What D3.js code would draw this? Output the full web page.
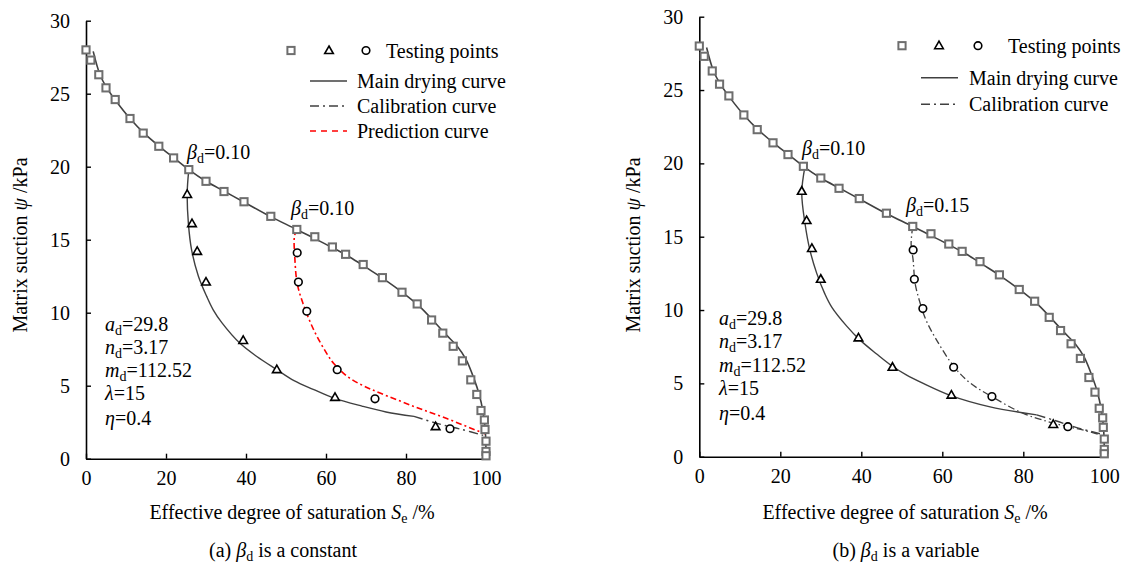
<!DOCTYPE html>
<html><head><meta charset="utf-8">
<script src="https://cdn.jsdelivr.net/npm/d3@7"></script>
<style>
body{margin:0;background:#fff;}
</style></head>
<body><svg id="chart" width="1126" height="567"></svg>
<script>
// ---- data ----
const xTicks = [0, 20, 40, 60, 80, 100];
const yTicks = [0, 5, 10, 15, 20, 25, 30];

const squaresX = [0, 1.2, 3.2, 5, 7.3, 11, 14.3, 18.2, 21.9, 25.7, 30, 34.5, 39.5, 46.2, 52.7, 57.2, 61.6, 64.9, 69.3, 74.1, 79, 82.8, 86.4, 89.2, 91.8, 94.1, 96.2, 97.7, 98.75, 99.6, 99.75, 100, 100, 100];
const squaresY = [28.0, 27.3, 26.3, 25.4, 24.6, 23.3, 22.3, 21.4, 20.6, 19.8, 19.0, 18.3, 17.6, 16.6, 15.7, 15.2, 14.5, 14.0, 13.3, 12.4, 11.4, 10.6, 9.5, 8.6, 7.7, 6.7, 5.4, 4.4, 3.3, 2.65, 2.0, 1.2, 0.5, 0.2];
const trianglesX = [25.3, 26.5, 27.8, 30, 39.3, 47.7, 62.25, 87.4];
const trianglesY = [18.1, 16.1, 14.2, 12.1, 8.1, 6.1, 4.2, 2.2];
const circlesX = [52.8, 53.1, 55.2, 62.8, 72.25, 91];
const circlesY = [14.1, 12.1, 10.1, 6.1, 4.1, 2.05];

const mainCurveX = [1.8, 3.5, 5.2, 7.5, 11, 14.5, 18.3, 22, 25.7, 30, 35, 40, 46, 52.7, 57, 62, 66, 70, 74.5, 79.5, 83.5, 87, 90, 92.8, 95, 97.1, 98.3, 99.2, 99.8, 100];
const mainCurveY = [27.9, 26.3, 25.4, 24.5, 23.3, 22.3, 21.4, 20.6, 19.8, 19.0, 18.25, 17.5, 16.6, 15.7, 15.1, 14.4, 13.8, 13.1, 12.3, 11.3, 10.4, 9.4, 8.5, 7.7, 6.8, 5.4, 4.4, 3.3, 2.0, 0.4];

// panel (a) scanning curve through triangles
const scanAX = [25.7, 25.3, 25.6, 26.4, 28.1, 30.2, 31.8, 34, 38.5, 42.7, 47.7, 52, 56.8, 62, 69, 75, 82];
const scanAY = [19.8, 18.2, 16.1, 14.3, 12.5, 11.1, 10.2, 9.3, 7.9, 7.0, 6.1, 5.35, 4.75, 4.15, 3.6, 3.2, 2.9];
const tailAX = [82, 88, 94, 99.3];
const tailAY = [2.9, 2.4, 2.0, 1.6];
// panel (a) prediction curve
const predX = [52.7, 52.1, 52.2, 52.8, 54.3, 56.8, 60.2, 62, 65.5, 69.3, 73.5, 81.8, 90.2, 99.75];
const predY = [15.7, 15.2, 13.8, 12.0, 10.6, 8.9, 7.2, 6.5, 5.6, 5.0, 4.5, 3.6, 2.75, 1.7];

// panel (b) curves
const scanBX = [26.1, 25.3, 26.1, 27.3, 29, 31, 32.7, 36.4, 39.5, 43.8, 47.5, 51, 55.3, 62.3, 71.8, 83.3];
const scanBY = [19.8, 18.0, 15.9, 14.1, 12.5, 11.1, 10.2, 8.9, 8.0, 7.0, 6.2, 5.6, 5.0, 4.15, 3.4, 2.85];
const tailBX = [83.3, 88, 93, 99.8];
const tailBY = [2.85, 2.45, 2.0, 1.5];
const calibBX = [52.7, 52.3, 52.8, 53.3, 54.5, 56, 58.6, 63, 67, 72.2, 80, 86, 91, 95, 98.9];
const calibBY = [15.7, 14.5, 13.4, 11.8, 10.5, 9.3, 7.95, 6.1, 5.0, 4.1, 2.95, 2.4, 2.05, 1.8, 1.5];

const paramLabels = [["a","d","=29.8"],["n","d","=3.17"],["m","d","=112.52"],["λ","","=15"],["η","","=0.4"]];

// ---- drawing ----
const svg = d3.select("#chart");
const FF = "'Liberation Serif', serif";
const FS = 20;
const SUB = 14;
const zip = (xs, ys) => xs.map((x, i) => [x, ys[i]]);

function txt(g) {
  return g.append("text").style("font-family", FF).attr("font-size", FS).attr("fill", "#000");
}

function richText(g, x, y, parts) {
  const t = txt(g).attr("x", x).attr("y", y).attr("dy", "0.35em");
  parts.forEach(p => {
    const s = t.append("tspan").text(p.text);
    if (p.italic) s.attr("font-style", "italic");
    if (p.sub) s.attr("font-size", SUB).attr("dy", 4);
    if (p.unsub) s.attr("dy", -4);
  });
  return t;
}

function trianglePath(cx, cy) {
  return `M${cx},${cy-4.5}L${cx+4.3},${cy+3}L${cx-4.3},${cy+3}Z`;
}

function panel(cfg) {
  const g = svg.append("g");
  const x = d3.scaleLinear().domain([0, 100]).range([cfg.x0, cfg.x1]);
  const y = d3.scaleLinear().domain([0, 30]).range([cfg.yb, cfg.yt]);

  const xa = g.append("g").attr("transform", `translate(0,${cfg.yb})`)
    .call(d3.axisBottom(x).tickValues(xTicks).tickSizeInner(-5).tickSizeOuter(0).tickPadding(12).tickFormat(d3.format("d")));
  const ya = g.append("g").attr("transform", `translate(${cfg.x0},0)`)
    .call(d3.axisLeft(y).tickValues(yTicks).tickSizeInner(-5).tickSizeOuter(0).tickPadding(16).tickFormat(d3.format("d")));
  [xa, ya].forEach(a => {
    a.attr("font-size", FS).style("font-family", FF);
    a.select(".domain").attr("stroke", "#000").attr("stroke-width", 1.6);
    a.selectAll(".tick line").attr("stroke", "#000").attr("stroke-width", 1.4);
    a.selectAll("text").attr("font-size", FS).style("font-family", FF).attr("fill", "#000");
  });

  const line = d3.line().x(d => x(d[0])).y(d => y(d[1])).curve(d3.curveCatmullRom.alpha(0.5));

  g.append("path").attr("d", line(zip(mainCurveX, mainCurveY))).attr("fill", "none")
    .attr("stroke", "#404040").attr("stroke-width", 1.6);
  g.append("path").attr("d", line(zip(cfg.scanX, cfg.scanY))).attr("fill", "none")
    .attr("stroke", "#404040").attr("stroke-width", 1.4);
  g.append("path").attr("d", line(zip(cfg.tailX, cfg.tailY))).attr("fill", "none")
    .attr("stroke", "#404040").attr("stroke-width", 1.4).attr("stroke-dasharray", "9,4,2,4");
  if (cfg.pred) {
    g.append("path").attr("d", line(zip(predX, predY))).attr("fill", "none")
      .attr("stroke", "#ff0000").attr("stroke-width", 1.6).attr("stroke-dasharray", "6,3,2,3");
  }
  if (cfg.calib) {
    g.append("path").attr("d", line(zip(calibBX, calibBY))).attr("fill", "none")
      .attr("stroke", "#404040").attr("stroke-width", 1.3).attr("stroke-dasharray", "7,3,1.5,3");
  }

  g.selectAll(".sq").data(zip(squaresX, squaresY)).join("rect")
    .attr("x", d => x(d[0]) - 3.6).attr("y", d => y(d[1]) - 3.6)
    .attr("width", 7.2).attr("height", 7.2).attr("fill", "#fff")
    .attr("stroke", "#6e6e6e").attr("stroke-width", 2);
  g.selectAll(".tri").data(zip(trianglesX, trianglesY)).join("path")
    .attr("d", d => trianglePath(x(d[0]), y(d[1]))).attr("fill", "#fff")
    .attr("stroke", "#000").attr("stroke-width", 1.6);
  g.selectAll(".ci").data(zip(circlesX, circlesY)).join("circle")
    .attr("cx", d => x(d[0])).attr("cy", d => y(d[1])).attr("r", 3.8).attr("fill", "#fff")
    .attr("stroke", "#000").attr("stroke-width", 1.6);

  const L = cfg.leg;
  g.append("rect").attr("x", L.sq - 3.6).attr("y", L.y0 - 3.6).attr("width", 7.2).attr("height", 7.2)
    .attr("fill", "#fff").attr("stroke", "#6e6e6e").attr("stroke-width", 2);
  g.append("path").attr("d", trianglePath(L.tri, L.y0)).attr("fill", "#fff").attr("stroke", "#000").attr("stroke-width", 1.6);
  g.append("circle").attr("cx", L.ci).attr("cy", L.y0).attr("r", 3.8).attr("fill", "#fff").attr("stroke", "#000").attr("stroke-width", 1.6);
  txt(g).attr("x", L.tx0).attr("y", L.y0).attr("dy", "0.35em").text("Testing points");
  const rows = [{t: "Main drying curve", s: "#404040", d: null},
                {t: "Calibration curve", s: "#404040", d: "9,4,2,4"}];
  if (cfg.pred) rows.push({t: "Prediction curve", s: "#ff0000", d: "6,5"});
  rows.forEach((r, i) => {
    const yy = L.y1 + i * L.dy;
    const ln = g.append("line").attr("x1", L.l0).attr("x2", L.l1).attr("y1", yy).attr("y2", yy)
      .attr("stroke", r.s).attr("stroke-width", 1.6);
    if (r.d) ln.attr("stroke-dasharray", r.d);
    txt(g).attr("x", L.tx1).attr("y", yy).attr("dy", "0.35em").text(r.t);
  });

  cfg.betas.forEach(b => {
    richText(g, b.x, b.y, [{text: "β", italic: true}, {text: "d", sub: true}, {text: "=" + b.v, unsub: true}]);
  });

  paramLabels.forEach((p, i) => {
    const parts = [{text: p[0], italic: true}];
    if (p[1]) { parts.push({text: p[1], sub: true}); parts.push({text: p[2], unsub: true}); }
    else parts.push({text: p[2]});
    richText(g, cfg.px, cfg.py[i], parts);
  });

  const xt = txt(g).attr("x", cfg.xtx).attr("y", 512).attr("dy", "0.35em").attr("text-anchor", "middle");
  xt.append("tspan").text("Effective degree of saturation ");
  xt.append("tspan").attr("font-style", "italic").text("S");
  xt.append("tspan").attr("font-size", SUB).attr("dy", 4).text("e");
  xt.append("tspan").attr("dy", -4).text(" /%");

  const yt = txt(g).attr("transform", `translate(${cfg.ytx},245) rotate(-90)`).attr("dy", "0.35em")
    .attr("text-anchor", "middle");
  yt.append("tspan").text("Matrix suction ");
  yt.append("tspan").attr("font-style", "italic").text("ψ");
  yt.append("tspan").text(" /kPa");

  const cp = txt(g).attr("x", cfg.cx).attr("y", 550).attr("dy", "0.35em").attr("text-anchor", "middle");
  cp.append("tspan").text(cfg.cap0 + " ");
  cp.append("tspan").attr("font-style", "italic").text("β");
  cp.append("tspan").attr("font-size", SUB).attr("dy", 4).text("d");
  cp.append("tspan").attr("dy", -4).text(" " + cfg.cap1);
}

panel({x0: 86, x1: 486, yb: 458.7, yt: 20.7, scanX: scanAX, scanY: scanAY, tailX: tailAX, tailY: tailAY,
  pred: true, calib: false,
  leg: {sq: 291, tri: 329, ci: 366, tx0: 386, y0: 50.5, l0: 310, l1: 347, tx1: 357, y1: 81, dy: 25},
  betas: [{x: 187, y: 152, v: "0.10"}, {x: 291, y: 208, v: "0.10"}],
  px: 105, py: [324.3, 346.7, 369.5, 393, 418],
  xtx: 292, ytx: 20, cx: 283, cap0: "(a)", cap1: "is a constant"});

panel({x0: 699.3, x1: 1104.3, yb: 456.7, yt: 16.7, scanX: scanBX, scanY: scanBY, tailX: tailBX, tailY: tailBY,
  pred: false, calib: true,
  leg: {sq: 902, tri: 939, ci: 978, tx0: 1008, y0: 45.7, l0: 921, l1: 958, tx1: 969, y1: 77.7, dy: 26.5},
  betas: [{x: 802, y: 148, v: "0.10"}, {x: 906, y: 205, v: "0.15"}],
  px: 719, py: [318, 340.7, 365, 388, 413],
  xtx: 905, ytx: 633, cx: 906, cap0: "(b)", cap1: "is a variable"});
</script>
</body></html>
